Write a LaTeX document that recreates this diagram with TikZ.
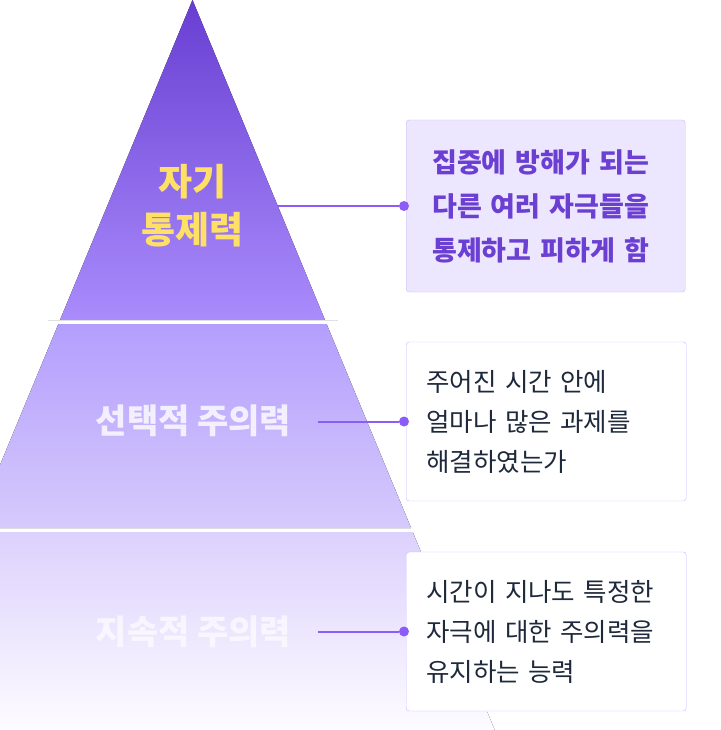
\documentclass[tikz,border=0pt]{standalone}
\usepackage{fontspec}
\setmainfont{Noto Sans CJK KR}
\usepackage{tikz}
\usepackage{xcolor}
\definecolor{bandatop}{RGB}{104,62,210}
\definecolor{bandabot}{RGB}{170,140,252}
\definecolor{bandbtop}{RGB}{180,158,253}
\definecolor{bandbbot}{RGB}{214,202,252}
\definecolor{bandctop}{RGB}{220,209,253}
\definecolor{bandcbot}{RGB}{253,252,255}
\definecolor{linkviolet}{RGB}{139,92,246}
\definecolor{boxfill}{RGB}{237,230,255}
\definecolor{boxedge}{RGB}{200,184,252}
\definecolor{textviolet}{RGB}{107,63,210}
\definecolor{textdark}{RGB}{30,41,59}
\definecolor{labelyellow}{RGB}{255,224,102}

\begin{document}
\begin{tikzpicture}[x=1pt,y=-1pt,
    dot/.style={circle,fill=linkviolet,inner sep=0pt,minimum size=10pt},
    link/.style={linkviolet,line width=2pt},
    infobox/.style={draw=boxedge,rounded corners=3pt,anchor=west,align=left,
        minimum width=280pt,minimum height=159pt},
    levellabel/.style={font=\bfseries\fontsize{34}{40}\selectfont}]
    \useasboundingbox (0,0) rectangle (720,730);

    % Pyramid bands
    \begin{scope}
        \clip (0,0) rectangle (720,730);
        \fill[top color=bandatop,bottom color=bandabot]
            (192.5,0) -- (325,320) -- (60,320) -- cycle;
        \fill[top color=bandbtop,bottom color=bandbbot]
            (58.4,324) -- (326.6,324) -- (411.1,528) -- (-26.1,528) -- cycle;
        \fill[top color=bandctop,bottom color=bandcbot]
            (-27.7,532) -- (412.7,532) -- (494.7,730) -- (-109.7,730) -- cycle;
    \end{scope}
    \draw[black!12,line width=0.8pt] (48,320.5) -- (338,320.5);

    % Level labels
    \node[levellabel,labelyellow,align=center,font=\bfseries\fontsize{37}{48}\selectfont]
        (self) at (192.5,206) {자기\\통제력};
    \node[levellabel,white,opacity=0.8] (selective) at (193.5,421) {선택적 주의력};
    \node[levellabel,white,opacity=0.65] (sustained) at (193.5,632) {지속적 주의력};

    % Boxes
    \node[infobox,fill=boxfill,minimum width=279pt,minimum height=172pt,
        inner xsep=26pt,text width=227pt,text=textviolet,
        font=\bfseries\fontsize{27}{44}\selectfont]
        (selfbox) at (406,206) {집중에 방해가 되는\\다른 여러 자극들을\\통제하고 피하게 함};
    \node[infobox,fill=white,inner xsep=20pt,text width=240pt,text=textdark,
        font=\fontsize{25.5}{40}\selectfont]
        (selbox) at (406,421.5) {주어진 시간 안에\\얼마나 많은 과제를\\해결하였는가};
    \node[infobox,fill=white,inner xsep=20pt,text width=240pt,text=textdark,
        font=\fontsize{25.5}{40}\selectfont]
        (susbox) at (406,631.5) {시간이 지나도 특정한\\자극에 대한 주의력을\\유지하는 능력};

    % Connectors
    \coordinate (selfedge) at (277.5,206);
    \coordinate (seledge) at (318,421.5);
    \coordinate (susedge) at (318,631.5);
    \foreach \tgt/\src in {selfbox/selfedge,selbox/seledge,susbox/susedge}{
        \node[dot] (\tgt dot) at ([xshift=-2pt]\tgt.west) {};
        \draw[link] (\src) -- (\tgt dot);
    }
\end{tikzpicture}
\end{document}
